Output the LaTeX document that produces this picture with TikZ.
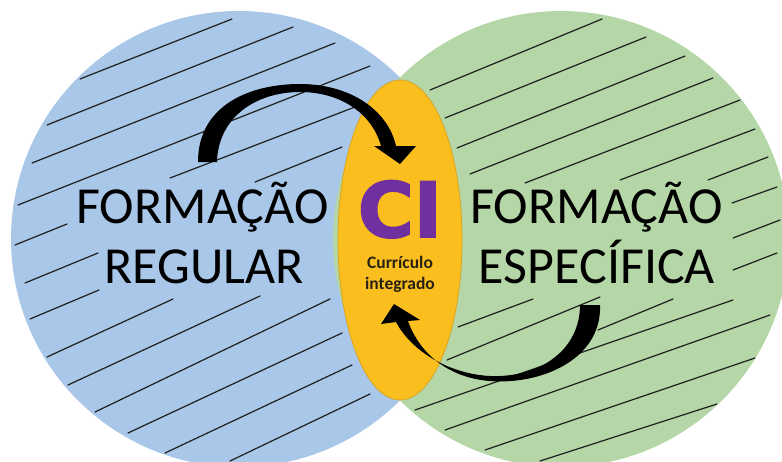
\documentclass[tikz,border=0pt]{standalone}
\usepackage{fontspec}
\setmainfont{Carlito}
\newfontfamily\cifont{DejaVu Sans}[BoldFeatures={FakeBold=2.5}]
\usetikzlibrary{positioning,shapes.geometric}

\definecolor{regblue}{RGB}{169,199,232}
\definecolor{espgreen}{RGB}{181,214,166}
\definecolor{cigold}{RGB}{250,190,30}
\definecolor{ciborder}{RGB}{214,165,40}
\definecolor{cipurple}{RGB}{112,48,160}
\definecolor{citext}{RGB}{40,34,20}

\tikzset{
  hatch/.style={line width=1.2pt, black!88, line cap=round},
  bigtext/.style={font=\fontsize{52}{60}\selectfont, inner sep=0pt, anchor=base},
  smalltext/.style={font=\fontsize{17.5}{21}\selectfont\bfseries, text=citext, inner sep=0pt, anchor=base},
  cibox/.style={ellipse, fill=cigold, draw=ciborder, line width=0.8pt, minimum width=124pt, minimum height=320pt, inner sep=0pt},
  bentarrow/.style={fill=black},
}

\begin{document}
\begin{tikzpicture}[x=1pt,y=-1pt]
\useasboundingbox (0,0) rectangle (782,461);
\clip (0,0) rectangle (782,461);

% the two circles
\fill[regblue] (239,239) circle (228pt);
\fill[espgreen] (561,239) circle (228pt);

% hatching, left circle
\foreach \xa/\ya/\xb/\yb in {80/79/232/19, 47/125/293/27, 32/163/335/43, 18/205/370/66,
    170/178/355/107, 255/182/342/147, 15/245/67/224, 25/283/98/253, 30/319/99/290,
    47/357/173/299, 68/385/260/296, 95/412/330/299, 128/433/342/333, 165/453/352/365,
    230/461/370/394}
  \draw[hatch] (\xa,\ya) -- (\xb,\yb);

% hatching, right circle
\foreach \xa/\ya/\xb/\yb in {430/90/602/19, 445/118/646/37, 457/148/685/56, 470/174/713/78,
    525/183/740/100, 620/180/755/129, 708/180/768/157, 732/203/777/187, 733/238/780/220,
    733/270/777/253, 458/327/533/299, 447/360/600/297, 598/330/673/299, 415/410/733/300,
    445/430/770/315, 485/450/755/358, 540/461/717/404}
  \draw[hatch] (\xa,\ya) -- (\xb,\yb);

% middle ellipse
\node[cibox] (ci) at (400,240) {};

% labels
\node[bigtext] (regA) at (202.5,223) {FORMAÇÃO};
\node[bigtext] (regB) at (204,283) {REGULAR};
\node[bigtext] (espA) at (596.5,223) {FORMAÇÃO};
\node[bigtext] (espB) at (597,283) {ESPECÍFICA};
\node[anchor=base, inner sep=0pt, text=cipurple, font=\cifont\bfseries\fontsize{76}{80}\selectfont] (cilabel) at (400,237) {CI};
\node[smalltext] (curA) at (400,268) {Currículo};
\node[smalltext] (curB) at (400,289) {integrado};

% curved arrows
\fill[bentarrow] (198,162) .. controls (198,105) and (250,84) .. (300,84)
  .. controls (350,84) and (388,110) .. (396,146)
  -- (416,146) -- (400,164) -- (374,146) -- (381,146)
  .. controls (372,113) and (340,92) .. (300,92)
  .. controls (255,92) and (218,118) .. (217,162) -- cycle;
\fill[bentarrow] (600,305) .. controls (602,360) and (540,385) .. (490,381)
  .. controls (450,378) and (420,355) .. (408,321)
  -- (420,320) -- (394,304) -- (381,324) -- (396,322)
  .. controls (412,352) and (450,374) .. (490,376)
  .. controls (540,378) and (580,350) .. (580,305) -- cycle;

\end{tikzpicture}
\end{document}
